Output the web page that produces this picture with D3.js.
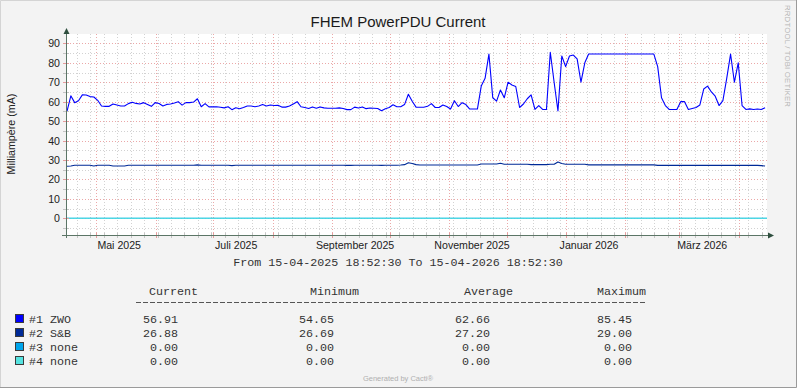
<!DOCTYPE html>
<html lang="de">
<head>
<meta charset="utf-8">
<title>FHEM PowerPDU Current</title>
<style>
  body { margin: 0; background: #f3f3f3; }
  svg { display: block; }
</style>
</head>
<body>
<svg id="chart" width="797" height="388"></svg>
<script src="https://d3js.org/d3.v7.min.js"></script>
<script>
    // rrd style data: one value every stepDays, starting at start
    const start = new Date(2025, 3, 15, 18, 52, 30)
    const end = new Date(2026, 3, 15, 18, 52, 30)
    const stepDays = 2

    const zwo = [
        55, 63, 59.5, 60.5, 63.5, 63.4, 62.6, 62.4, 60.7, 57.8,
        57.6, 57.6, 58.8, 58.3, 57.8, 57.8, 59, 59.7, 59.1, 58.8,
        59.5, 58.6, 57.6, 59.5, 59.1, 57.8, 58.6, 58.8, 59.3, 60,
        58.2, 59.5, 59.5, 59.8, 61.5, 57.4, 59, 57.3, 57.3, 57.4,
        57.1, 56.8, 57.4, 55.9, 56.9, 56.4, 57, 57.8, 57.8, 57.4,
        57.8, 58.5, 57.8, 58.3, 58, 58.1, 57.2, 57.2, 57.8, 58.8,
        60, 57.4, 57, 56.5, 57.3, 56.6, 57.3, 56.8, 56.6, 56.6,
        56.6, 56.8, 56.5, 55.9, 55.9, 57.2, 56.7, 57.3, 56.4, 56.7,
        56.6, 56.5, 55.3, 56.4, 57, 58.4, 57.4, 57.4, 58.5, 63.8,
        60.2, 57.2, 57.1, 57.1, 57.6, 59, 57, 57, 58.3, 57.5,
        56.2, 60.5, 57.5, 59.5, 58.5, 56.2, 56.2, 56.2, 68, 72,
        84.5, 62, 60.3, 66, 62, 70, 68.6, 67.8, 57, 58.8,
        61.5, 63.5, 56, 58, 56, 56, 85.4, 70, 55.2, 83.5,
        78, 83.5, 84, 82, 70, 80, 84.5, 84.5, 84.5, 84.5,
        84.5, 84.5, 84.5, 84.5, 84.5, 84.5, 84.5, 84.5, 84.5, 84.5,
        84.5, 84.5, 84.5, 84.5, 78, 62, 58, 56, 56, 56,
        60, 60, 56, 56.5, 57, 58.3, 66.5, 68, 65, 62.8,
        58, 60.5, 72, 84.5, 70, 80, 58, 56, 56.3, 56,
        56.2, 56, 56.9
    ]

    const sb = [
        26.8, 26.9, 27.3, 27.3, 27.3, 27.3, 27.3, 26.9, 27.3, 27.3,
        27.3, 27.3, 26.9, 26.9, 26.9, 26.9, 27.3, 27.3, 27.3, 27.3,
        27.3, 27.3, 27.3, 27.3, 27.3, 27.3, 27.3, 27.3, 27.3, 27.3,
        27.3, 27.3, 27.3, 27.3, 27.5, 27.3, 27.3, 27.3, 27.3, 27.3,
        27.3, 27.3, 27.3, 27.1, 27.3, 27.3, 27.3, 27.3, 27.3, 27.3,
        27.3, 27.3, 27.3, 27.3, 27.3, 27.3, 27.3, 27.3, 27.3, 27.3,
        27.3, 27.3, 27.3, 27.3, 27.3, 27.3, 27.3, 27.3, 27.3, 27.3,
        27.3, 27.3, 27.3, 27.2, 27.2, 27.3, 27.3, 27.3, 27.3, 27.3,
        27.3, 27.3, 27.2, 27.3, 27.3, 27.3, 27.3, 27.4, 27.6, 28.6,
        28.2, 27.6, 27.4, 27.4, 27.4, 27.4, 27.4, 27.4, 27.4, 27.4,
        27.4, 27.4, 27.4, 27.4, 27.4, 27.4, 27.4, 27.4, 27.9, 27.9,
        27.9, 27.9, 27.9, 28.3, 27.8, 27.8, 27.8, 27.8, 27.8, 27.8,
        27.8, 27.6, 27.6, 27.6, 27.6, 27.6, 27.8, 27.8, 29.0, 28.2,
        27.8, 27.8, 27.8, 27.8, 27.8, 27.8, 27.5, 27.5, 27.5, 27.5,
        27.5, 27.5, 27.5, 27.5, 27.5, 27.5, 27.5, 27.5, 27.5, 27.5,
        27.5, 27.5, 27.5, 27.5, 27.2, 27.2, 27.2, 27.2, 27.2, 27.2,
        27.2, 27.2, 27.2, 27.2, 27.2, 27.2, 27.2, 27.2, 27.2, 27.2,
        27.2, 27.2, 27.2, 27.2, 27.2, 27.2, 27.2, 27.2, 27.2, 27.2,
        27.2, 27.1, 26.9
    ]

    // #3 and #4 are flat zero over the whole range (first and last sample)
    const none3 = [0, 0]
    const none4 = [0, 0]

    const seriesNames = ["#1 ZWO", "#2 S&B", "#3 none", "#4 none"]
    const seriesColors = ["#0000FF", "#002A97", "#00A5EC", "#55E3E0"]
    const statHeads = ["Current", "Minimum", "Average", "Maximum"]
    const statCurrent = [56.91, 26.88, 0.00, 0.00]
    const statMinimum = [54.65, 26.69, 0.00, 0.00]
    const statAverage = [62.66, 27.20, 0.00, 0.00]
    const statMaximum = [85.45, 29.00, 0.00, 0.00]

    const yTicks = [0, 10, 20, 30, 40, 50, 60, 70, 80, 90]
    const yMinor = [-5, 5, 15, 25, 35, 45, 55, 65, 75, 85]
    const monthNames = ["Januar", "Februar", "März", "April", "Mai", "Juni",
        "Juli", "August", "September", "Oktober", "November", "Dezember"]

    const SANS = "'Liberation Sans', Arial, sans-serif"
    const MONO = "'Liberation Mono', 'Courier New', monospace"
    const W = 797, H = 388
    const plotLeft = 67, plotRight = 767, plotTop = 34, plotBottom = 235

    let svg = d3.select("#chart")

    let x = d3.scaleTime().domain([start, end]).range([plotLeft, plotRight])
    let y = d3.scaleLinear().domain([-8.6, 94.3]).range([plotBottom, 35])
    let px = v => Math.round(v) + 0.5

    function sampleTime(i) {
        return new Date(+start + i * stepDays * 864e5)
    }

    // canvas and frame
    svg.append("rect").attr("width", W).attr("height", H).attr("fill", "#f3f3f3")
    svg.append("path").attr("d", `M0.5,${H}V0.5H${W}`).attr("stroke", "#d4d4d4").attr("fill", "none")
    svg.append("path").attr("d", `M0,${H - 0.5}H${W - 0.5}V0`).attr("stroke", "#9a9a9a").attr("fill", "none")

    svg.append("rect")
        .attr("x", plotLeft).attr("y", plotTop)
        .attr("width", plotRight - plotLeft).attr("height", plotBottom - plotTop)
        .attr("fill", "#ffffff")

    // grid
    let weeks = d3.timeMonday.range(start, end)
    let months = d3.timeMonth.range(start, end)
    let grid = svg.append("g").attr("fill", "none").attr("stroke-dasharray", "1,2")
    let minorColor = "#d2d2d2", majorColor = "#eba8a8"

    grid.selectAll(".vmin").data(weeks).join("line")
        .attr("x1", d => px(x(d))).attr("x2", d => px(x(d)))
        .attr("y1", plotTop).attr("y2", plotBottom)
        .attr("stroke", minorColor)
    grid.selectAll(".hmin").data(yMinor).join("line")
        .attr("x1", plotLeft).attr("x2", plotRight)
        .attr("y1", d => px(y(d))).attr("y2", d => px(y(d)))
        .attr("stroke", minorColor)
    grid.selectAll(".vmaj").data(months).join("line")
        .attr("x1", d => px(x(d))).attr("x2", d => px(x(d)))
        .attr("y1", plotTop).attr("y2", plotBottom)
        .attr("stroke", majorColor)
    grid.selectAll(".hmaj").data(yTicks).join("line")
        .attr("x1", plotLeft).attr("x2", plotRight)
        .attr("y1", d => px(y(d))).attr("y2", d => px(y(d)))
        .attr("stroke", majorColor)

    // series
    svg.append("clipPath").attr("id", "plotClip")
        .append("rect").attr("x", plotLeft).attr("y", plotTop)
        .attr("width", plotRight - plotLeft).attr("height", plotBottom - plotTop)

    let line = d3.line()
        .x(d => x(d.t))
        .y(d => y(d.v))

    let series = [
        zwo.map((v, i) => ({ t: sampleTime(i), v: v })),
        sb.map((v, i) => ({ t: sampleTime(i), v: v })),
        none3.map((v, i) => ({ t: i ? end : start, v: v })),
        none4.map((v, i) => ({ t: i ? end : start, v: v }))
    ]

    svg.append("g").attr("clip-path", "url(#plotClip)")
        .selectAll("path").data(series).join("path")
        .attr("d", line)
        .attr("fill", "none")
        .attr("stroke", (d, i) => seriesColors[i])
        .attr("stroke-width", 1.1)
        .attr("stroke-linejoin", "round")

    // axes with little ticks
    let axisColor = "#5b7566"
    let ticks = svg.append("g")
    ticks.selectAll(".xt").data(weeks).join("line")
        .attr("x1", d => px(x(d))).attr("x2", d => px(x(d)))
        .attr("y1", plotBottom - 2).attr("y2", plotBottom + 3)
        .attr("stroke", "#c4c4c4")
    ticks.selectAll(".xm").data(months).join("line")
        .attr("x1", d => px(x(d))).attr("x2", d => px(x(d)))
        .attr("y1", plotBottom - 2).attr("y2", plotBottom + 3)
        .attr("stroke", "#e59c9c")
    ticks.selectAll(".yt").data(yMinor.concat(yTicks)).join("line")
        .attr("x1", plotLeft - 4).attr("x2", plotLeft + 2)
        .attr("y1", d => px(y(d))).attr("y2", d => px(y(d)))
        .attr("stroke", d => d % 10 === 0 ? "#e59c9c" : "#c4c4c4")

    svg.append("line")
        .attr("x1", 62).attr("x2", 769).attr("y1", plotBottom + 0.5).attr("y2", plotBottom + 0.5)
        .attr("stroke", axisColor)
    svg.append("line")
        .attr("x1", plotLeft - 0.5).attr("x2", plotLeft - 0.5).attr("y1", plotBottom + 3).attr("y2", 31)
        .attr("stroke", axisColor)
    svg.append("path")
        .attr("d", `M768,232.5L774,235.5L768,238.5Z`)
        .attr("fill", "#2f4f3f")
    svg.append("path")
        .attr("d", `M63.5,34L66.5,28L69.5,34Z`)
        .attr("fill", "#2f4f3f")

    // axis labels
    svg.append("g").selectAll("text").data(yTicks).join("text")
        .attr("x", 60).attr("y", d => y(d) + 4)
        .attr("text-anchor", "end")
        .attr("font-family", SANS).attr("font-size", 10.6)
        .attr("fill", "#222")
        .text(d => d)

    let labelMonths = months.filter(d => d.getMonth() % 2 === 0)
    svg.append("g").selectAll("text").data(labelMonths).join("text")
        .attr("x", d => x(d3.timeDay.offset(d, 12)))
        .attr("y", 249)
        .attr("text-anchor", "middle")
        .attr("font-family", SANS).attr("font-size", 10.6)
        .attr("fill", "#222")
        .text(d => monthNames[d.getMonth()] + " " + d.getFullYear())

    svg.append("text")
        .attr("transform", "translate(15,134) rotate(-90)")
        .attr("text-anchor", "middle")
        .attr("font-family", SANS).attr("font-size", 10.7)
        .attr("fill", "#222")
        .text("Milliampère (mA)")

    svg.append("text")
        .attr("x", 398).attr("y", 27)
        .attr("text-anchor", "middle")
        .attr("font-family", SANS).attr("font-size", 15)
        .attr("fill", "#1a1a1a")
        .text("FHEM PowerPDU Current")

    svg.append("text")
        .attr("transform", "translate(785,5) rotate(90)")
        .attr("font-family", SANS).attr("font-size", 7.8)
        .attr("fill", "#b5b5b5")
        .attr("textLength", 102)
        .text("RRDTOOL / TOBI OETIKER")

    let fmt = d3.timeFormat("%d-%m-%Y %H:%M:%S")
    svg.append("text")
        .attr("x", 398).attr("y", 266)
        .attr("text-anchor", "middle")
        .attr("font-family", MONO).attr("font-size", 11.7)
        .attr("fill", "#333")
        .text("From " + fmt(start) + " To " + fmt(end))

    // legend table
    let heads = svg.append("g")
        .attr("font-family", MONO).attr("font-size", 11.7).attr("fill", "#333")
    let headX = [149, 310, 464, 597]
    heads.selectAll("text").data(statHeads).join("text")
        .attr("x", (d, i) => headX[i]).attr("y", 295)
        .text(d => d)
    // row of dashes under the header
    svg.append("line")
        .attr("x1", 136).attr("x2", 645)
        .attr("y1", 302.5).attr("y2", 302.5)
        .attr("stroke", "#555")
        .attr("stroke-dasharray", "5,2")

    let colRight = [178, 334, 490, 632]
    let stats = [statCurrent, statMinimum, statAverage, statMaximum]
    let rows = svg.append("g").selectAll("g").data(seriesNames).join("g")
        .attr("transform", (d, i) => `translate(0,${323 + i * 14})`)
        .attr("font-family", MONO).attr("font-size", 11.7).attr("fill", "#333")

    rows.append("rect")
        .attr("x", 15.5).attr("y", -8.5).attr("width", 8).attr("height", 8)
        .attr("fill", (d, i) => seriesColors[i])
        .attr("stroke", "#3a3a3a")
    rows.append("text")
        .attr("x", 29).attr("y", 0)
        .text(d => d)
    rows.each(function (d, r) {
        d3.select(this).selectAll(".v").data(stats).join("text")
            .attr("x", (s, c) => colRight[c]).attr("y", 0)
            .attr("text-anchor", "end")
            .text(s => s[r].toFixed(2))
    })

    svg.append("text")
        .attr("x", 398).attr("y", 381)
        .attr("text-anchor", "middle")
        .attr("font-family", SANS).attr("font-size", 7.5)
        .attr("fill", "#b0b0b0")
        .text("Generated by Cacti®")
</script>
</body>
</html>
